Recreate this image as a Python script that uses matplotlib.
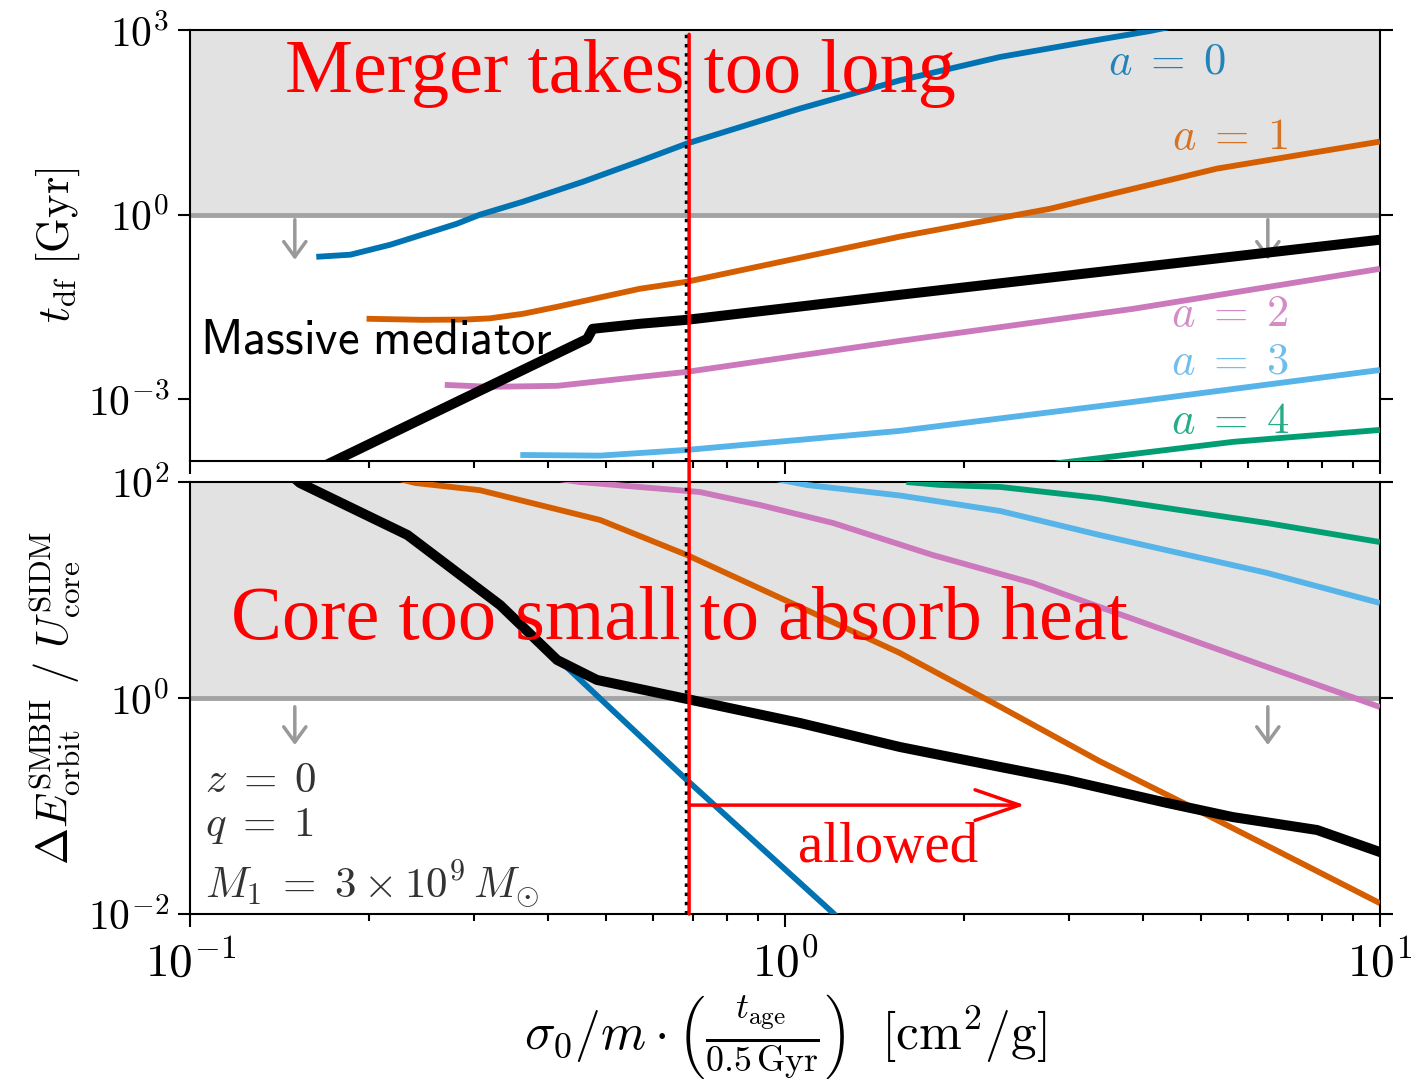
import numpy
import matplotlib
matplotlib.use('Agg')
import matplotlib.pyplot as plt
from matplotlib.patches import ConnectionPatch
from matplotlib.ticker import FixedLocator, FuncFormatter, LogLocator

plt.rcParams['mathtext.fontset'] = 'cm'
plt.rcParams['font.family'] = ['DejaVu Sans']

# --- top panel: dynamical friction time [Gyr] ---
top_a0_x = [0.163, 0.186, 0.217, 0.250, 0.281, 0.307, 0.363, 0.458, 0.570, 0.684, 1.06, 1.56, 2.30, 3.38, 4.10, 10.0]
top_a0_y = [0.207, 0.224, 0.325, 0.50, 0.714, 1.0, 1.63, 3.44, 7.4, 14.3, 53, 152, 365, 700, 960, 5500]

top_a1_x = [0.198, 0.246, 0.290, 0.319, 0.363, 0.414, 0.570, 0.684, 0.933, 1.56, 2.79, 5.32, 10.0]
top_a1_y = [0.0204, 0.0196, 0.0198, 0.0207, 0.0246, 0.0319, 0.0626, 0.0815, 0.154, 0.44, 1.25, 5.6, 15.4]

top_a2_x = [0.268, 0.319, 0.414, 0.570, 0.684, 1.56, 3.85, 10.0]
top_a2_y = [1.72e-3, 1.6e-3, 1.66e-3, 2.32e-3, 2.8e-3, 8.9e-3, 0.0296, 0.132]

top_a3_x = [0.359, 0.489, 0.684, 1.56, 3.85, 10.0]
top_a3_y = [1.25e-4, 1.22e-4, 1.51e-4, 3.08e-4, 9.1e-4, 3.0e-3]

top_a4_x = [2.0, 2.90, 5.66, 10.0]
top_a4_y = [5e-5, 9.3e-5, 2.04e-4, 3.19e-4]

top_mm_x = [0.16, 0.465, 0.475, 0.570, 0.684, 1.56, 10.0]
top_mm_y = [6.6e-5, 9.6e-3, 0.014, 0.0169, 0.0196, 0.05, 0.392]

# --- bottom panel: orbital energy / core energy ---
bot_a0_x = [0.14, 0.153, 0.232, 0.332, 0.431, 0.684, 1.205, 1.3]
bot_a0_y = [150, 98, 32.3, 7.0, 1.9, 0.174, 0.0102, 0.0066]

bot_a1_x = [0.22, 0.239, 0.307, 0.489, 0.684, 1.06, 1.56, 2.30, 3.38, 4.67, 6.46, 10.0]
bot_a1_y = [110, 98, 84, 44.5, 21.1, 6.96, 2.61, 0.83, 0.26, 0.107, 0.043, 0.0126]

bot_a2_x = [0.40, 0.452, 0.719, 0.908, 1.205, 1.77, 2.61, 3.38, 6.46, 10.0]
bot_a2_y = [110, 100, 80.8, 61.2, 41.7, 21.1, 11.6, 6.96, 1.94, 0.826]

bot_a3_x = [0.9, 1.089, 1.56, 2.30, 3.38, 6.46, 10.0]
bot_a3_y = [115, 93.8, 75, 53.9, 32.3, 14.4, 7.58]

bot_a4_x = [1.6, 1.82, 2.30, 3.38, 6.46, 10.0]
bot_a4_y = [100, 94, 90, 71, 41.7, 27.8]

bot_mm_x = [0.14, 0.153, 0.232, 0.332, 0.414, 0.483, 0.684, 1.06, 1.56, 2.30, 2.98, 4.38, 5.66, 7.84, 10.0]
bot_mm_y = [150, 98, 32.3, 7.26, 2.25, 1.47, 0.98, 0.587, 0.352, 0.23, 0.174, 0.107, 0.079, 0.06, 0.0375]

colors = ['#0173b2', '#d55e00', '#cc78bc', '#56b4e9', '#029e73']
a_labels = [r'$a\;=\;0$', r'$a\;=\;1$', r'$a\;=\;2$', r'$a\;=\;3$', r'$a\;=\;4$']
a_label_pos = [(4.39, 307), (5.6, 18.5), (5.6, 0.0246), (5.6, 4.07e-3), (5.6, 4.6e-4)]

sigma_dotted = 0.682
sigma_red = 0.69
arrow_right = 2.53

fig = plt.figure(figsize=(14.13, 10.91), dpi=100)
ax1 = fig.add_axes([0.1345, 0.5775, 0.8421, 0.395])
ax2 = fig.add_axes([0.1345, 0.1622, 0.8421, 0.396])

lw_c = 4.2
lw_k = 7.2
grey = '#a3a3a3'
shade = '#e2e2e2'


def logfmt(v, pos):
    return r'$10^{%d}$' % int(round(numpy.log10(v)))


for ax, lo, hi, ticks in [(ax1, 1e-4, 1e3, [1e-3, 1e0, 1e3]), (ax2, 1e-2, 1e2, [1e-2, 1e0, 1e2])]:
    ax.set_xscale('log')
    ax.set_yscale('log')
    ax.set_xlim(0.1, 10)
    ax.set_ylim(lo, hi)
    ax.axhspan(1, hi, color=shade, zorder=0, lw=0)
    ax.axhline(1, color=grey, lw=3.5, zorder=1)
    ax.axvline(sigma_dotted, color='black', ls=':', lw=2.5, zorder=4)
    ax.yaxis.set_major_locator(FixedLocator(ticks))
    ax.yaxis.set_minor_locator(FixedLocator([]))
    ax.yaxis.set_major_formatter(FuncFormatter(logfmt))
    ax.xaxis.set_major_locator(LogLocator(base=10))
    ax.xaxis.set_minor_locator(LogLocator(base=10, subs=numpy.arange(2, 10)))
    ax.xaxis.set_major_formatter(FuncFormatter(logfmt))
    ax.tick_params(which='both', direction='out', right=True, width=1.5)
    ax.tick_params(which='major', length=9)
    ax.tick_params(which='minor', length=5)
    ax.tick_params(axis='y', labelsize=30, pad=6)
    ax.tick_params(axis='x', labelsize=34, pad=10)
    for s in ax.spines.values():
        s.set_linewidth(1.5)

ax1.tick_params(axis='x', labelbottom=False)

# top panel curves
top_x = [top_a0_x, top_a1_x, top_a2_x, top_a3_x, top_a4_x]
top_y = [top_a0_y, top_a1_y, top_a2_y, top_a3_y, top_a4_y]
for i in range(5):
    ax1.plot(top_x[i], top_y[i], color=colors[i], lw=lw_c, zorder=3, solid_capstyle='butt')
    ax1.text(a_label_pos[i][0], a_label_pos[i][1], a_labels[i], color=colors[i], fontsize=32,
             ha='center', va='center', alpha=0.85)
ax1.plot(top_mm_x, top_mm_y, color='black', lw=lw_k, zorder=5)
ax1.text(0.0084, 0.281, r'$\mathsf{Massive\ mediator}$', transform=ax1.transAxes, fontsize=35,
         ha='left', va='center', zorder=6)

# bottom panel curves
bot_x = [bot_a0_x, bot_a1_x, bot_a2_x, bot_a3_x, bot_a4_x]
bot_y = [bot_a0_y, bot_a1_y, bot_a2_y, bot_a3_y, bot_a4_y]
for i in range(5):
    ax2.plot(bot_x[i], bot_y[i], color=colors[i], lw=lw_c, zorder=3, solid_capstyle='butt')
ax2.plot(bot_mm_x, bot_mm_y, color='black', lw=lw_k, zorder=5)

ax2.text(0.0126, 0.31, r'$z\;=\;0$', transform=ax2.transAxes, fontsize=31, color='#333333', va='center')
ax2.text(0.0126, 0.206, r'$q\;=\;1$', transform=ax2.transAxes, fontsize=31, color='#333333', va='center')
ax2.text(0.0126, 0.067, r'$M_1\;=\;3\times10^9\,M_{\odot}$', transform=ax2.transAxes, fontsize=31,
         color='#333333', va='center')

# downward grey arrows
arrow_kw = dict(arrowstyle='->,head_length=0.55,head_width=0.4', color='#999999', lw=2.5,
                shrinkA=0, shrinkB=0, mutation_scale=20)
for x in [0.15, 6.48]:
    ax1.annotate('', xy=(x, 0.185), xytext=(x, 0.83), arrowprops=arrow_kw, zorder=2)
    ax2.annotate('', xy=(x, 0.367), xytext=(x, 0.83), arrowprops=arrow_kw, zorder=2)

# red annotations
ax1.text(0.362, 0.898, 'Merger takes too long', transform=ax1.transAxes, color='red',
         fontsize=55, family='Liberation Serif', ha='center', va='center', zorder=7)
ax2.text(0.411, 0.68, 'Core too small to absorb heat', transform=ax2.transAxes, color='red',
         fontsize=55, family='Liberation Serif', ha='center', va='center', zorder=7)
ax2.annotate('', xy=(arrow_right, 0.102), xytext=(sigma_red, 0.102),
             arrowprops=dict(arrowstyle='->,head_length=1.6,head_width=0.55', color='red', lw=2.5,
                             shrinkA=0, shrinkB=0, mutation_scale=20), zorder=7)
ax2.text(1.49, 0.041, 'allowed', color='red', fontsize=41, family='Liberation Serif',
         ha='center', va='center', zorder=7)

con = ConnectionPatch(xyA=(sigma_red, 10 ** 2.93), coordsA=ax1.transData,
                      xyB=(sigma_red, 1e-2), coordsB=ax2.transData, color='red', lw=2.5, zorder=8)
fig.add_artist(con)

ax1.set_ylabel(r'$t_{\rm df}\ [{\rm Gyr}]$', fontsize=32)
ax2.set_ylabel(r'$\Delta E^{\rm SMBH}_{\rm orbit}\ /\ U^{\rm SIDM}_{\rm core}$', fontsize=32)
ax2.set_xlabel(r'$\sigma_0/m\cdot\left(\frac{t_{\rm age}}{0.5\,{\rm Gyr}}\right)\ \ [{\rm cm}^2/{\rm g}]$',
               fontsize=37, labelpad=4)
fig.align_ylabels([ax1, ax2])

plt.savefig('out.png', dpi=100)
